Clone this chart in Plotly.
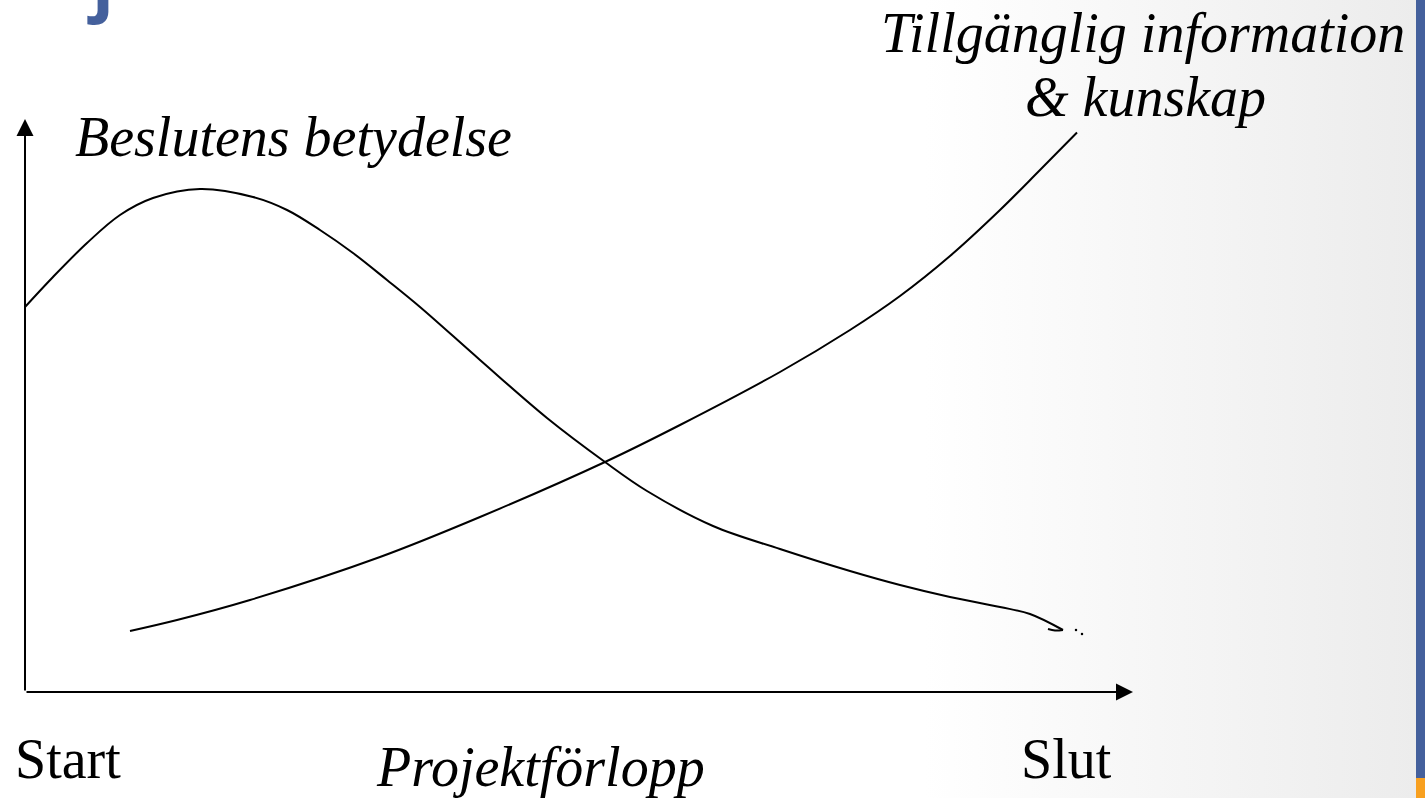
import plotly.graph_objects as go

# Kurvor (x = projektförlopp, y = nivå)
beslut_x = [0, 2.8, 6.2, 9.5, 12.8, 17.5, 22.8, 26.2, 29.5, 32.8, 36.2, 39.5,
            45.5, 52.2, 58.0, 62.2, 68.8, 75.5, 82.5, 87.5, 92.5, 97.5, 100.5, 103.8]
beslut_y = [77.0, 83.0, 89.8, 95.4, 98.8, 100.6, 99.0, 96.4, 92.4, 87.8, 82.4, 77.0,
            66.4, 54.8, 46.0, 40.2, 33.2, 28.6, 24.2, 21.4, 19.0, 17.0, 15.6, 12.4]
krok_x = [103.8, 103.0, 102.3]
krok_y = [12.4, 12.3, 12.6]
prickar_x = [105.1, 105.7]
prickar_y = [12.4, 11.6]

info_x = [10.5, 15.2, 22.5, 35.5, 45.5, 58.0, 65.5, 75.5, 82.5, 87.5, 92.5, 97.5, 101.5, 105.2]
info_y = [12.2, 14.4, 18.4, 27.0, 35.0, 46.0, 53.4, 64.0, 72.4, 79.2, 87.2, 96.4, 104.4, 111.9]

X_MIN, X_MAX = -2.5, 140.0
Y_MIN, Y_MAX = -21.2, 138.4
SERIF = "Liberation Serif, Times New Roman, serif"
FS = 56

fig = go.Figure()

# svag grå toning mot högerkanten
fig.add_trace(go.Scatter(
    x=[90, 139.1, 139.1, 90, 90], y=[Y_MIN, Y_MIN, Y_MAX, Y_MAX, Y_MIN],
    mode="none", fill="toself",
    fillgradient=dict(type="horizontal",
                      colorscale=[[0, "rgba(255,255,255,1)"], [1, "rgb(236,236,236)"]]),
    hoverinfo="skip", showlegend=False
))

linje = dict(color="black", width=2, shape="spline", smoothing=1.0)
fig.add_trace(go.Scatter(x=beslut_x, y=beslut_y, mode="lines", line=linje, showlegend=False))
fig.add_trace(go.Scatter(x=krok_x, y=krok_y, mode="lines", line=linje, showlegend=False))
fig.add_trace(go.Scatter(x=prickar_x, y=prickar_y, mode="markers",
                         marker=dict(color="black", size=2.5), showlegend=False))
fig.add_trace(go.Scatter(x=info_x, y=info_y, mode="lines", line=linje, showlegend=False))

text_font = dict(family=SERIF, size=FS, color="black")
annotations = [
    # axlar med pilar
    dict(x=0, y=114.6, ax=0, ay=0, xref="x", yref="y", axref="x", ayref="y",
         text="", showarrow=True, arrowhead=2, arrowsize=1.7, arrowwidth=2, arrowcolor="black"),
    dict(x=110.8, y=0, ax=0, ay=0, xref="x", yref="y", axref="x", ayref="y",
         text="", showarrow=True, arrowhead=2, arrowsize=1.7, arrowwidth=2, arrowcolor="black"),
    # texter
    dict(x=26.8, y=111.0, text="<i>Beslutens betydelse</i>", showarrow=False,
         font=text_font, xanchor="center", yanchor="middle"),
    dict(x=111.8, y=131.8, text="<i>Tillgänglig information</i>", showarrow=False,
         font=text_font, xanchor="center", yanchor="middle"),
    dict(x=112.0, y=119.0, text="<i>& kunskap</i>", showarrow=False,
         font=text_font, xanchor="center", yanchor="middle"),
    dict(x=4.3, y=-13.4, text="Start", showarrow=False,
         font=text_font, xanchor="center", yanchor="middle"),
    dict(x=51.5, y=-15.0, text="<i>Projektförlopp</i>", showarrow=False,
         font=text_font, xanchor="center", yanchor="middle"),
    dict(x=104.1, y=-13.4, text="Slut", showarrow=False,
         font=text_font, xanchor="center", yanchor="middle"),
    # rest av rubriken ovanför bilden
    dict(x=100 / 1425, y=1.025, xref="paper", yref="paper", text="<b>j</b>", showarrow=False,
         font=dict(family="Open Sans, sans-serif", size=72, color="#44609c"),
         xanchor="center", yanchor="middle"),
]

fig.update_layout(
    width=1425, height=798,
    margin=dict(l=0, r=0, t=0, b=0),
    paper_bgcolor="white", plot_bgcolor="white",
    xaxis=dict(range=[X_MIN, X_MAX], visible=False, fixedrange=True),
    yaxis=dict(range=[Y_MIN, Y_MAX], visible=False, fixedrange=True),
    annotations=annotations,
    shapes=[
        dict(type="rect", xref="paper", yref="paper", x0=1416 / 1425, x1=1, y0=0, y1=1,
             fillcolor="#44609c", line=dict(width=0), layer="above"),
        dict(type="rect", xref="paper", yref="paper", x0=1416 / 1425, x1=1, y0=0, y1=20 / 798,
             fillcolor="#f8a01f", line=dict(width=0), layer="above"),
    ],
)

fig.write_html("out.html", config={"displayModeBar": False},
               post_script="document.body.style.margin='0px';document.body.style.overflow='hidden';")
